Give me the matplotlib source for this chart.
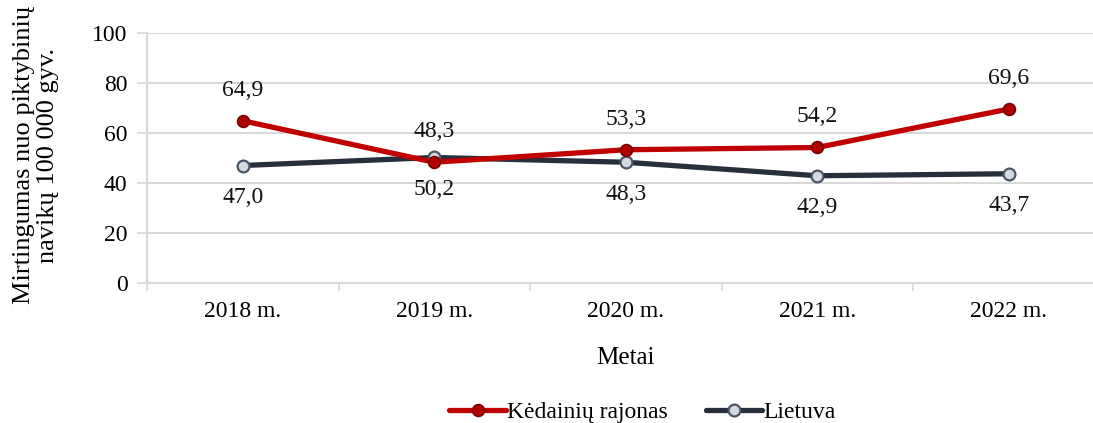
import matplotlib.pyplot as plt

plt.rcParams['font.family'] = ['Liberation Serif', 'DejaVu Serif']

# --- data ---
years = ["2018 m.", "2019 m.", "2020 m.", "2021 m.", "2022 m."]
kedainiai = [64.9, 48.3, 53.3, 54.2, 69.6]
lietuva = [47.0, 50.2, 48.3, 42.9, 43.7]

RED = "#C00000"
NAVY = "#262F3B"
GRID = "#D9D9D9"
FS = 17

fig = plt.figure(figsize=(10.93, 4.23), dpi=100)
# plot area runs a bit past the right edge of the canvas
ax = fig.add_axes([147 / 1093, 140 / 423, 957.5 / 1093, 250 / 423])

x = list(range(len(years)))

ax.plot(x, kedainiai, color=RED, lw=3.8, marker="o", ms=8.5,
        mfc="#B00000", mec="#7A0000", mew=1.2, label="Kėdainių rajonas",
        solid_capstyle="round", zorder=4)
ax.plot(x, lietuva, color=NAVY, lw=3.8, marker="o", ms=8.5,
        mfc="#D5DAE2", mec="#4A5566", mew=1.6, label="Lietuva",
        solid_capstyle="round", zorder=3)

# value labels: red series above the points, Lietuva below
for xi, v in zip(x, kedainiai):
    ax.annotate(f"{v:.1f}".replace(".", ","), (xi, v), xytext=(0, 22),
                textcoords="offset points", ha="center", va="center",
                fontsize=FS, color="#111111")
for xi, v in zip(x, lietuva):
    ax.annotate(f"{v:.1f}".replace(".", ","), (xi, v), xytext=(0, -23),
                textcoords="offset points", ha="center", va="center",
                fontsize=FS, color="#111111")

ax.set_xlim(-0.5, len(years) - 0.5)
ax.set_ylim(0, 100)
ax.set_yticks(range(0, 101, 20))
ax.set_xticks(x)
ax.set_xticklabels(years)
ax.set_xticks([i + 0.5 for i in range(-1, len(years))], minor=True)

ax.grid(axis="y", color=GRID, lw=1.5)
ax.set_axisbelow(True)
for side in ["top", "right"]:
    ax.spines[side].set_visible(False)
for side in ["left", "bottom"]:
    ax.spines[side].set_color(GRID)
    ax.spines[side].set_linewidth(1.5)

ax.tick_params(axis="y", length=7, width=1.2, color=GRID, labelsize=FS, pad=7)
ax.tick_params(axis="x", which="major", length=0, labelsize=FS, pad=13)
ax.tick_params(axis="x", which="minor", length=6, width=1.2, color=GRID)

ax.set_xlabel("Metai", fontsize=FS + 1, labelpad=18)
fig.text(0.033, 0.633, "Mirtingumas nuo piktybinių\nnavikų 100 000 gyv.",
         rotation=90, ha="center", va="center", fontsize=FS + 2,
         linespacing=1.1)

fig.legend(loc="lower center", bbox_to_anchor=(0.588, -0.05), ncol=2,
           frameon=False, prop={"family": "Liberation Serif", "size": FS},
           handlelength=2.4, handletextpad=0.05, columnspacing=1.6)

fig.savefig("out.png", dpi=100)
